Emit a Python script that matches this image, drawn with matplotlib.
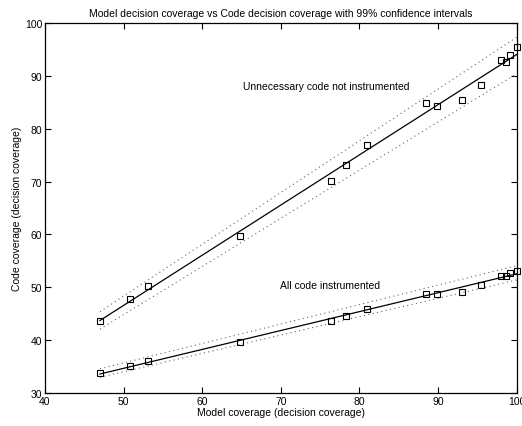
import matplotlib
matplotlib.use("Agg")
import matplotlib.pyplot as plt
import numpy as np

plt.rcParams["font.family"] = ["Liberation Sans", "DejaVu Sans"]
plt.rcParams["font.size"] = 7.5

model_cov = [47.0, 50.8, 53.1, 64.8, 76.4, 78.3, 81.0, 88.5, 89.9, 93.0, 95.4, 98.0, 98.6, 99.2, 100.0]
code_not_instr = [43.7, 47.8, 50.3, 59.8, 70.1, 73.1, 76.9, 84.8, 84.2, 85.4, 88.2, 92.9, 92.6, 93.9, 95.4]
code_all_instr = [33.8, 35.2, 36.0, 39.6, 43.6, 44.6, 46.0, 48.8, 48.8, 49.2, 50.4, 52.2, 52.2, 52.7, 53.1]

# 99% confidence bounds, read at the ends of the data range
ci_x = [47.0, 100.0]
not_instr_upper = [45.4, 97.3]
not_instr_lower = [42.1, 90.4]
all_instr_upper = [34.6, 54.1]
all_instr_lower = [33.0, 51.4]

fig = plt.figure(figsize=(5.22, 4.27), dpi=100)
ax = fig.add_axes([0.086, 0.077, 0.904, 0.867])

dotted = dict(color="#666666", linewidth=0.8, linestyle=(0, (1, 3)))
series_list = [
    (code_not_instr, not_instr_upper, not_instr_lower),
    (code_all_instr, all_instr_upper, all_instr_lower),
]
for series, upper, lower in series_list:
    coef = np.polyfit(model_cov, series, 1)
    ax.plot(model_cov, np.polyval(coef, model_cov), "-", color="black", linewidth=0.9)
    ax.plot(ci_x, upper, **dotted)
    ax.plot(ci_x, lower, **dotted)
    ax.plot(model_cov, series, "s", markerfacecolor="none", markeredgecolor="black",
            markersize=5, markeredgewidth=0.8, clip_on=False)

ax.text(65.2, 88.1, "Unnecessary code not instrumented", va="center")
ax.text(69.9, 50.5, "All code instrumented", va="center")

ax.set_xlim(40, 100)
ax.set_ylim(30, 100)
ax.set_xticks(range(40, 101, 10))
ax.set_yticks(range(30, 101, 10))
ax.tick_params(direction="in", top=True, right=True, length=4, width=0.8, pad=2)
for sp in ax.spines.values():
    sp.set_linewidth(0.9)
ax.set_xlabel("Model coverage (decision coverage)", labelpad=1)
ax.set_ylabel("Code coverage (decision coverage)", labelpad=2)
ax.set_title("Model decision coverage vs Code decision coverage with 99% confidence intervals",
             fontsize=7.5, pad=5)

fig.savefig("out.png", dpi=100)
